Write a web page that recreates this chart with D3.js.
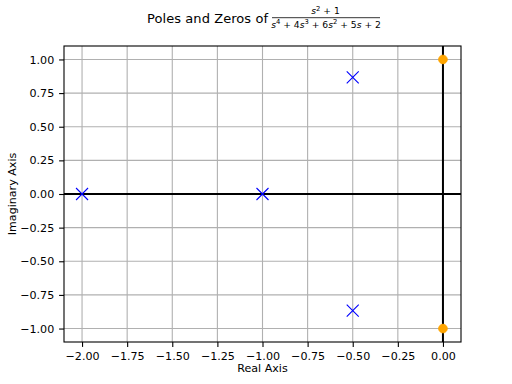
<!DOCTYPE html>
<html><head><meta charset="utf-8">
<script src="https://cdn.jsdelivr.net/npm/d3@7"></script>
<style>body{margin:0;background:#fff}svg{display:block;font-family:"DejaVu Sans",sans-serif}</style>
</head><body><svg id="c" width="512" height="384"></svg>
<script>
const poleRe = [-2, -1, -0.5, -0.5];
const poleIm = [0, 0, 0.866, -0.866];
const zeroRe = [0, 0];
const zeroIm = [1, -1];
const xTicks = [-2.0, -1.75, -1.5, -1.25, -1.0, -0.75, -0.5, -0.25, 0.0];
const yTicks = [-1.0, -0.75, -0.5, -0.25, 0.0, 0.25, 0.5, 0.75, 1.0];

const svg = d3.select("#c");
const L = 64, R = 461, T = 46, B = 342;
const x = d3.scaleLinear().domain([-2.1, 0.1]).range([L, R]);
const y = d3.scaleLinear().domain([-1.1, 1.1]).range([B, T]);

const g = svg.append("g");
// grid
g.selectAll(".gx").data(xTicks).enter().append("line")
  .attr("x1", d => x(d)).attr("x2", d => x(d)).attr("y1", T).attr("y2", B)
  .attr("stroke", "#b0b0b0").attr("stroke-width", 1.1);
g.selectAll(".gy").data(yTicks).enter().append("line")
  .attr("y1", d => y(d)).attr("y2", d => y(d)).attr("x1", L).attr("x2", R)
  .attr("stroke", "#b0b0b0").attr("stroke-width", 1.1);
// zero axes lines
g.append("line").attr("x1", x(0)).attr("x2", x(0)).attr("y1", T).attr("y2", B).attr("stroke", "#000").attr("stroke-width", 2);
g.append("line").attr("y1", y(0)).attr("y2", y(0)).attr("x1", L).attr("x2", R).attr("stroke", "#000").attr("stroke-width", 2);

// poles (x markers)
const ms = 6;
const pts = poleRe.map((r, i) => [r, poleIm[i]]);
pts.forEach(([r, im]) => {
  const cx = x(r), cy = y(im);
  g.append("path").attr("d", `M${cx-ms},${cy-ms}L${cx+ms},${cy+ms}M${cx-ms},${cy+ms}L${cx+ms},${cy-ms}`)
    .attr("stroke", "#0000ff").attr("stroke-width", 1.1).attr("fill", "none");
});
// zeros
g.selectAll(".z").data(zeroRe.map((r, i) => [r, zeroIm[i]])).enter().append("circle")
  .attr("cx", d => x(d[0])).attr("cy", d => y(d[1])).attr("r", 4.3)
  .attr("fill", "#ffa500").attr("stroke", "#ffa500");

// frame
svg.append("rect").attr("x", L).attr("y", T).attr("width", R - L).attr("height", B - T)
  .attr("fill", "none").attr("stroke", "#000").attr("stroke-width", 1.1);

// axes
const fmt = d3.format(".2f");
const minus = s => s.replace("-", "\u2212");
const xa = svg.append("g").attr("transform", `translate(0,${B})`)
  .call(d3.axisBottom(x).tickValues(xTicks).tickFormat(d => minus(fmt(d))).tickSize(4.9).tickPadding(4.9));
const ya = svg.append("g").attr("transform", `translate(${L},0)`)
  .call(d3.axisLeft(y).tickValues(yTicks).tickFormat(d => minus(fmt(d))).tickSize(4.9).tickPadding(4.9));
[xa, ya].forEach(a => {
  a.select(".domain").remove();
  a.selectAll("line").attr("stroke", "#000").attr("stroke-width", 1.1);
  a.selectAll("text").attr("font-family", "DejaVu Sans").attr("font-size", 11.1).attr("fill", "#000");
});

svg.append("text").attr("x", (L + R) / 2).attr("y", 372).attr("text-anchor", "middle")
  .attr("font-size", 11.1).text("Real Axis");
svg.append("text").attr("transform", `translate(16,${(T + B) / 2}) rotate(-90)`).attr("text-anchor", "middle")
  .attr("font-size", 11.1).text("Imaginary Axis");

// title
const title = svg.append("g");
title.append("text").attr("x", 147).attr("y", 22.5).attr("font-size", 13).attr("textLength", 121).text("Poles and Zeros of");
const fs = 9.2, sup = 6.8;
const num = title.append("text").attr("x", 325.5).attr("y", 14).attr("text-anchor", "middle").attr("font-size", fs);
num.append("tspan").attr("font-style", "italic").text("s");
num.append("tspan").attr("font-size", sup).attr("dy", -3.5).text("2");
num.append("tspan").attr("dy", 3.5).text(" + 1");
title.append("line").attr("x1", 272).attr("x2", 380).attr("y1", 17.7).attr("y2", 17.7).attr("stroke", "#000").attr("stroke-width", 0.8);
const den = title.append("text").attr("x", 326).attr("y", 27.7).attr("text-anchor", "middle").attr("font-size", fs);
const parts = [["s", "4", " + 4"], ["s", "3", " + 6"], ["s", "2", " + 5"], ["s", null, " + 2"]];
parts.forEach(([v, p, rest]) => {
  den.append("tspan").attr("font-style", "italic").text(v);
  if (p) {
    den.append("tspan").attr("font-size", sup).attr("dy", -3.5).text(p);
    den.append("tspan").attr("dy", 3.5).text(rest);
  } else den.append("tspan").text(rest);
});
</script></body></html>
